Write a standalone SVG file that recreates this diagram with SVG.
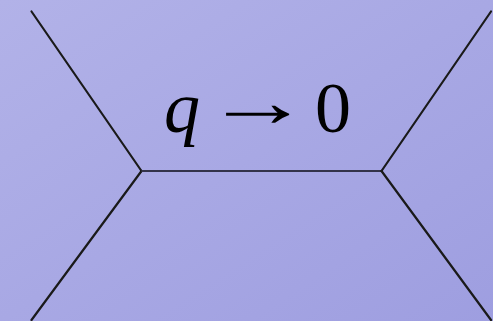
<svg xmlns="http://www.w3.org/2000/svg" width="493" height="321" viewBox="0 0 493 321">
<defs>
<linearGradient id="bg" x1="0" y1="0" x2="1" y2="1">
<stop offset="0" stop-color="#b2b2e8"/>
<stop offset="1" stop-color="#9e9ee0"/>
</linearGradient>
<style>
.leg{stroke:#1a1a1a;stroke-width:2.2;fill:none;stroke-linecap:round}
.prop{stroke:#33334a;stroke-width:1.8;fill:none}
</style>
</defs>
<rect width="493" height="321" fill="url(#bg)"/>
<g id="connectors">
<line class="leg" x1="31.5" y1="11.5" x2="141.5" y2="171"/>
<line class="leg" x1="141.5" y1="171" x2="31.5" y2="320"/>
<line class="prop" x1="141.5" y1="171" x2="381.5" y2="171"/>
<line class="leg" x1="381.5" y1="171" x2="491" y2="11.5"/>
<line class="leg" x1="381.5" y1="171" x2="491" y2="320"/>
</g>
<g id="label" fill="#000">
<text x="164" y="132" font-size="72" font-family="Liberation Serif" font-style="italic">q</text>
<text x="0" y="0" font-size="72" font-family="Liberation Serif" transform="translate(204,126) scale(1.48,1)">→</text>
<text x="315" y="132" font-size="72" font-family="Liberation Serif">0</text>
</g>
</svg>
